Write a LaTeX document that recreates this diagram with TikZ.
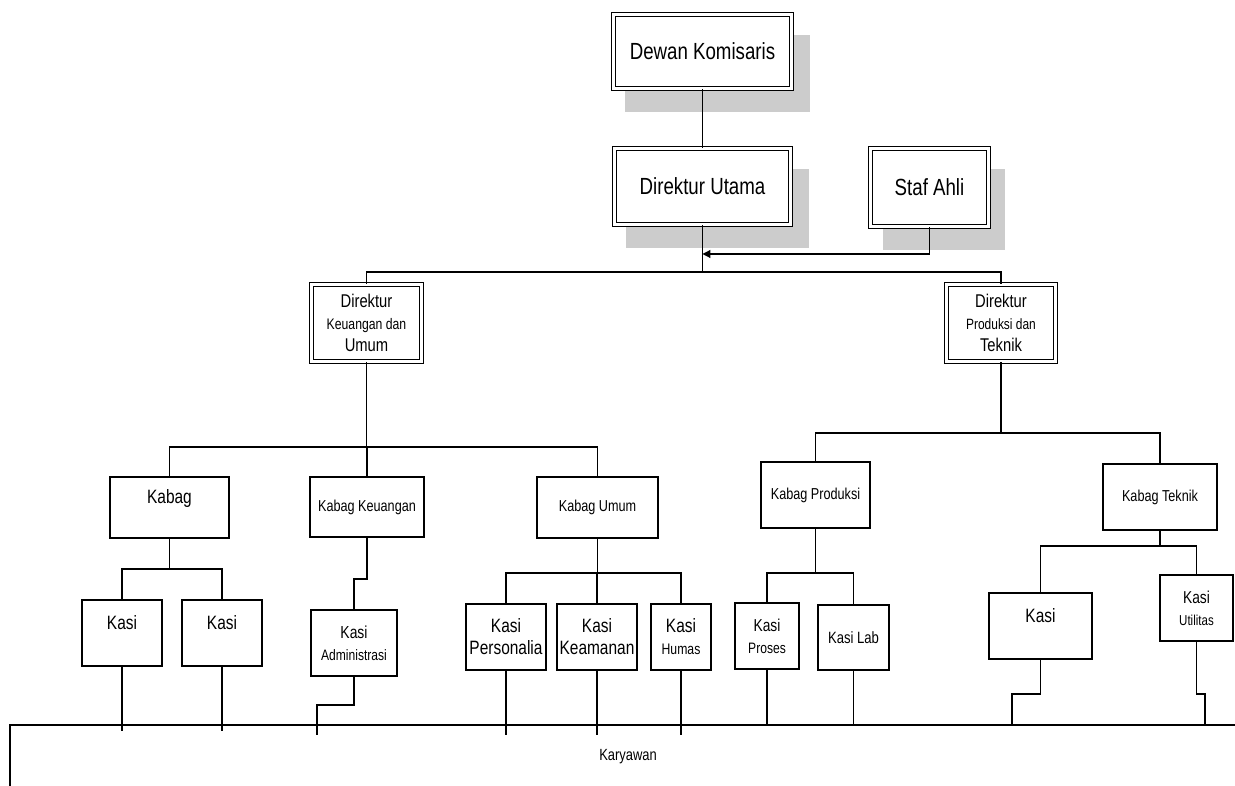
\documentclass[tikz,border=0pt]{standalone}
\usepackage{fontspec}
\setmainfont{Liberation Sans}[FakeStretch=0.8]
\usetikzlibrary{arrows.meta, shadows, calc}
\newcommand{\fsz}[1]{\fontsize{#1}{12.5}\selectfont}
\definecolor{shadowgray}{RGB}{204,204,204}
\tikzset{
    box/.style={draw, rectangle, fill=white, line width=0.7pt, inner sep=1pt, align=center},
    dbox/.style={box, double, double distance=1.6pt, line width=0.6pt},
    shadowed/.style={drop shadow={shadow xshift=0.28cm, shadow yshift=-0.42cm, shadow scale=1.04, fill=shadowgray, opacity=1}},
    raised/.style={text depth=12pt},
    link/.style={line width=0.7pt},
}

\begin{document}
\begin{tikzpicture}[x=0.02cm, y=-0.02cm]
    \useasboundingbox (0,0) rectangle (1235,786);

    % pimpinan
    \node[dbox, shadowed, minimum width=3.56cm, minimum height=1.48cm, font=\fsz{13.3}] (dk) at (702.5,51.5) {Dewan Komisaris};
    \node[dbox, shadowed, minimum width=3.52cm, minimum height=1.52cm, font=\fsz{13.3}] (du) at (702.5,186.5) {Direktur Utama};
    \node[dbox, shadowed, minimum width=2.36cm, minimum height=1.56cm, font=\fsz{13.3}] (sa) at (929.5,187.5) {Staf Ahli};

    \node[dbox, minimum width=2.2cm, minimum height=1.54cm, font=\fsz{10.5}] (dku) at (366.5,323) {Direktur\\{\fsz{8.7}Keuangan dan}\\Umum};
    \node[dbox, minimum width=2.18cm, minimum height=1.54cm, font=\fsz{10.5}] (dpt) at (1001,323) {Direktur\\{\fsz{8.5}Produksi dan}\\Teknik};

    % kabag
    \node[box, raised, minimum width=2.38cm, minimum height=1.22cm, font=\fsz{11}] (kb) at (169.5,507.5) {Kabag};
    \node[box, minimum width=2.28cm, minimum height=1.2cm, font=\fsz{9}] (kk) at (367,507) {Kabag Keuangan};
    \node[box, minimum width=2.42cm, minimum height=1.22cm, font=\fsz{9}] (ku) at (597.5,507.5) {Kabag Umum};
    \node[box, minimum width=2.18cm, minimum height=1.32cm, font=\fsz{9}] (kp) at (815.5,495) {Kabag Produksi};
    \node[box, minimum width=2.28cm, minimum height=1.32cm, font=\fsz{9}] (kt) at (1160,497) {Kabag Teknik};

    % kasi
    \node[box, raised, minimum width=1.6cm, minimum height=1.32cm, font=\fsz{11}] (ks1) at (122,633) {Kasi};
    \node[box, raised, minimum width=1.6cm, minimum height=1.32cm, font=\fsz{11}] (ks2) at (222,633) {Kasi};
    \node[box, minimum width=1.72cm, minimum height=1.32cm, font=\fsz{9.9}] (ksa) at (354,643) {Kasi\\{\fsz{8.6}Administrasi}};
    \node[box, minimum width=1.6cm, minimum height=1.32cm, font=\fsz{11}] (ksp) at (506,637) {Kasi\\Personalia};
    \node[box, minimum width=1.6cm, minimum height=1.32cm, font=\fsz{11}] (ksk) at (597,637) {Kasi\\Keamanan};
    \node[box, minimum width=1.2cm, minimum height=1.32cm, font=\fsz{11}] (ksh) at (681,637) {Kasi\\{\fsz{8.7}Humas}};
    \node[box, minimum width=1.28cm, minimum height=1.32cm, font=\fsz{9.8}] (ksr) at (767,636) {Kasi\\{\fsz{8.6}Proses}};
    \node[box, minimum width=1.42cm, minimum height=1.3cm, font=\fsz{9.3}] (ksl) at (853.5,637.5) {Kasi Lab};
    \node[box, raised, minimum width=2.06cm, minimum height=1.32cm, font=\fsz{11}] (ksx) at (1040.5,626) {Kasi};
    \node[box, minimum width=1.46cm, minimum height=1.32cm, font=\fsz{9.8}] (ksu) at (1196.5,608) {Kasi\\{\fsz{8.2}Utilitas}};

    \node[font=\fsz{9.2}] (kar) at (628,757) {Karyawan};

    % garis
    \coordinate (bus0) at (0,272);
    \coordinate (stf) at (0,254);
    \coordinate (busK) at (0,447);
    \coordinate (busP) at (0,433);
    \coordinate (busKb) at (0,569);
    \coordinate (busU) at (0,573);
    \coordinate (busT) at (0,546);
    \coordinate (stepA) at (0,579);
    \coordinate (stepB) at (0,705);
    \coordinate (stepC) at (0,694);
    \coordinate (admX) at (317,0);
    \coordinate (tkL) at (1012,0);
    \coordinate (tkR) at (1205,0);
    \coordinate (kary) at (0,725);
    \coordinate (kl) at (10,786);
    \coordinate (kr) at (1235,725);

    \draw[link] (dk) -- (du);
    \draw[link] (du.south) -- (du.south |- bus0);
    \draw[link, -{Triangle[length=4.5pt,width=4.5pt]}] (sa.south) |- (du.south |- stf);
    \draw[link] (dku.north) |- (dpt.north |- bus0) -- (dpt.north);

    \draw[link] (dku.south) -- (dku.south |- busK);
    \draw[link] (kb.north) |- (ku.north |- busK) -- (ku.north);
    \draw[link] (kk.north) -- (kk.north |- busK);
    \draw[link] (dpt.south) -- (dpt.south |- busP);
    \draw[link] (kp.north) |- (kt.north |- busP) -- (kt.north);

    \draw[link] (kb.south) -- (kb.south |- busKb);
    \draw[link] (ks1.north) |- (ks2.north |- busKb) -- (ks2.north);
    \draw[link] (kk.south) -- (kk.south |- stepA) -| (ksa.north);
    \draw[link] (ku.south) -- (ku.south |- busU);
    \draw[link] (ksp.north) |- (ksh.north |- busU) -- (ksh.north);
    \draw[link] (ksk.north) -- (ksk.north |- busU);
    \draw[link] (kp.south) -- (kp.south |- busU);
    \draw[link] (ksr.north) |- (ksl.north |- busU) -- (ksl.north);
    \draw[link] (kt.south) -- (kt.south |- busT);
    \draw[link] (ksx.north) |- (ksu.north |- busT) -- (ksu.north);

    % ke karyawan
    \draw[link] (kl) |- (kr);
    \foreach \n/\y in {ks1/731, ks2/731, ksp/735, ksk/735, ksh/735, ksr/725, ksl/725}
        \draw[link] (\n.south) -- (\n.south |- 0,\y);
    \draw[link] (ksa.south) -- (ksa.south |- stepB) -| (admX |- 0,735);
    \draw[link] (ksx.south) -- (ksx.south |- stepC) -| (tkL |- kary);
    \draw[link] (ksu.south) -- (ksu.south |- stepC) -| (tkR |- kary);
\end{tikzpicture}
\end{document}
